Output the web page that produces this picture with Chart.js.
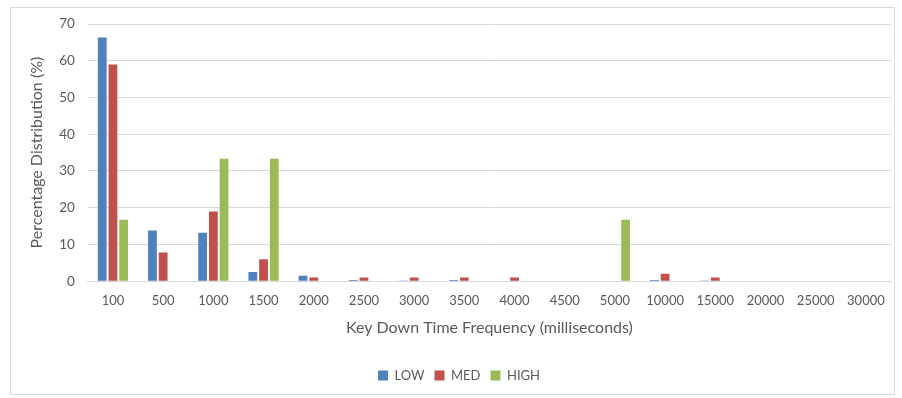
<!DOCTYPE html>
<html>
<head>
<meta charset="utf-8">
<script src="https://cdn.jsdelivr.net/npm/chart.js@4/dist/chart.umd.min.js"></script>
<style>
  body { margin: 0; background: #fff; }
  #wrap { position: relative; width: 902px; height: 398px; }
  #frame { position: absolute; left: 10px; top: 7px; width: 885px; height: 388px; border: 1px solid #d9d9d9; box-sizing: border-box; }
  canvas { position: absolute; left: 0; top: 0; }
</style>
</head>
<body>
<div id="wrap">
  <div id="frame"></div>
  <canvas id="myChart" width="902" height="398"></canvas>
</div>
<script>
// key down time buckets (ms)
const categories = ['100', '500', '1000', '1500', '2000', '2500', '3000', '3500', '4000', '4500', '5000', '10000', '15000', '20000', '25000', '30000'];
// percentage distribution per stress level
const lowValues  = [66.3, 13.8, 13.2, 2.5, 1.5, 0.3, 0.2, 0.3, 0, 0, 0, 0.3, 0.2, 0, 0, 0];
const medValues  = [59.0, 7.8, 19.0, 6.0, 1.0, 1.0, 1.0, 1.0, 1.0, 0, 0, 2.0, 1.0, 0, 0, 0];
const highValues = [16.7, 0, 33.3, 33.3, 0, 0, 0, 0, 0, 0, 16.7, 0, 0, 0, 0, 0];
const yTicks = [0, 10, 20, 30, 40, 50, 60, 70];

const font = 'Lato, "Open Sans", sans-serif';
const grey = '#595959';

const ctx = document.getElementById('myChart').getContext('2d');
const myChart = new Chart(ctx, {
    type: 'bar',
    data: {
        labels: categories,
        datasets: [
            { label: 'LOW',  data: lowValues,  backgroundColor: '#4f81bd' },
            { label: 'MED',  data: medValues,  backgroundColor: '#c0504d' },
            { label: 'HIGH', data: highValues, backgroundColor: '#9bbb59' }
        ]
    },
    options: {
        responsive: false,
        animation: false,
        categoryPercentage: 0.64,
        barPercentage: 0.82,
        layout: { padding: { left: 27, right: 11, top: 24, bottom: 6 } },
        plugins: {
            legend: {
                position: 'bottom',
                labels: { boxWidth: 10, boxHeight: 10, color: grey, font: { family: font, size: 13 }, padding: 10 }
            },
            tooltip: { enabled: false }
        },
        scales: {
            x: {
                grid: { display: false },
                border: { color: '#d9d9d9' },
                ticks: { color: grey, font: { family: font, size: 13 }, maxRotation: 0, autoSkip: false, padding: 4 },
                title: { display: true, text: 'Key Down Time Frequency (milliseconds)', color: grey, font: { family: font, size: 16 }, padding: { top: 5, bottom: 22 } }
            },
            y: {
                min: 0,
                max: 70,
                afterBuildTicks: (axis) => { axis.ticks = yTicks.map(v => ({ value: v })); },
                grid: { color: '#d9d9d9', drawTicks: false },
                border: { display: false },
                ticks: { color: grey, font: { family: font, size: 13.5 }, padding: 13 },
                title: { display: true, text: 'Percentage Distribution (%)', color: grey, font: { family: font, size: 16 }, padding: { top: 0, bottom: 0 } }
            }
        }
    }
});
</script>
</body>
</html>
